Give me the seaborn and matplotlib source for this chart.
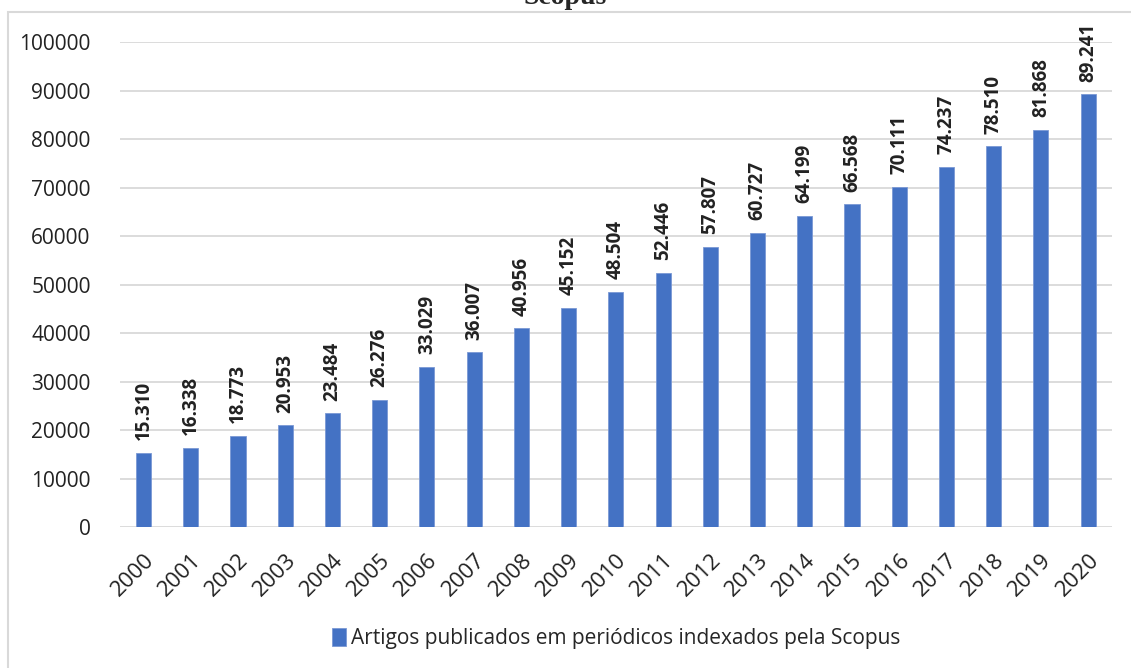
import matplotlib
matplotlib.use("Agg")
import matplotlib.pyplot as plt
import seaborn as sns
import pandas as pd
from matplotlib.patches import Rectangle

anos = [str(a) for a in range(2000, 2021)]
artigos = [15310, 16338, 18773, 20953, 23484, 26276, 33029, 36007, 40956, 45152,
           48504, 52446, 57807, 60727, 64199, 66568, 70111, 74237, 78510, 81868, 89241]
rotulos = [f"{v:,}".replace(",", ".") for v in artigos]
serie = "Artigos publicados em periódicos indexados pela Scopus"

df = pd.DataFrame({"ano": anos, "artigos": artigos, "serie": serie})

sns.set_theme(style="white")
plt.rcParams["font.family"] = ["Open Sans", "DejaVu Sans"]

fig = plt.figure(figsize=(11.31, 6.68), dpi=100)
ax = fig.add_axes([0.106, 0.211, 0.877, 0.726])

# moldura do gráfico
fig.patches.append(Rectangle((8 / 1131, -0.05), 1.2, 1 - 12 / 668 + 0.05,
                             transform=fig.transFigure, fill=False,
                             edgecolor="#d9d9d9", linewidth=1.5))

sns.barplot(data=df, x="ano", y="artigos", hue="serie", palette=["#4472C4"],
            saturation=1, width=0.32, ax=ax, edgecolor="#7a98d4", linewidth=0.6)

for i, (v, r) in enumerate(zip(artigos, rotulos)):
    ax.text(i, v + 2600, r, rotation=90, ha="center", va="bottom",
            fontsize=13.5, fontweight="bold", color="#222222")

ax.set_ylim(0, 100000)
ax.set_yticks(range(0, 100001, 10000))
ax.yaxis.grid(True, color="#d9d9d9", linewidth=1.3)
ax.set_axisbelow(True)
for s in ax.spines.values():
    s.set_visible(False)
ax.set_xlabel("")
ax.set_ylabel("")
ax.tick_params(axis="y", labelsize=15, colors="#222222", pad=15)
ax.tick_params(axis="x", labelsize=16, colors="#222222", pad=10)
plt.setp(ax.get_xticklabels(), rotation=45, ha="right", rotation_mode="anchor")

ax.legend(loc="upper center", bbox_to_anchor=(0.5, -0.17), frameon=False,
          fontsize=15, handlelength=0.7, handleheight=0.9, handletextpad=0.2)

fig.text(0.5, 1 - 10 / 668, "Scopus", ha="center", va="bottom", fontsize=20,
         fontweight="bold", family="Liberation Serif")

fig.savefig("out.png", dpi=100)
